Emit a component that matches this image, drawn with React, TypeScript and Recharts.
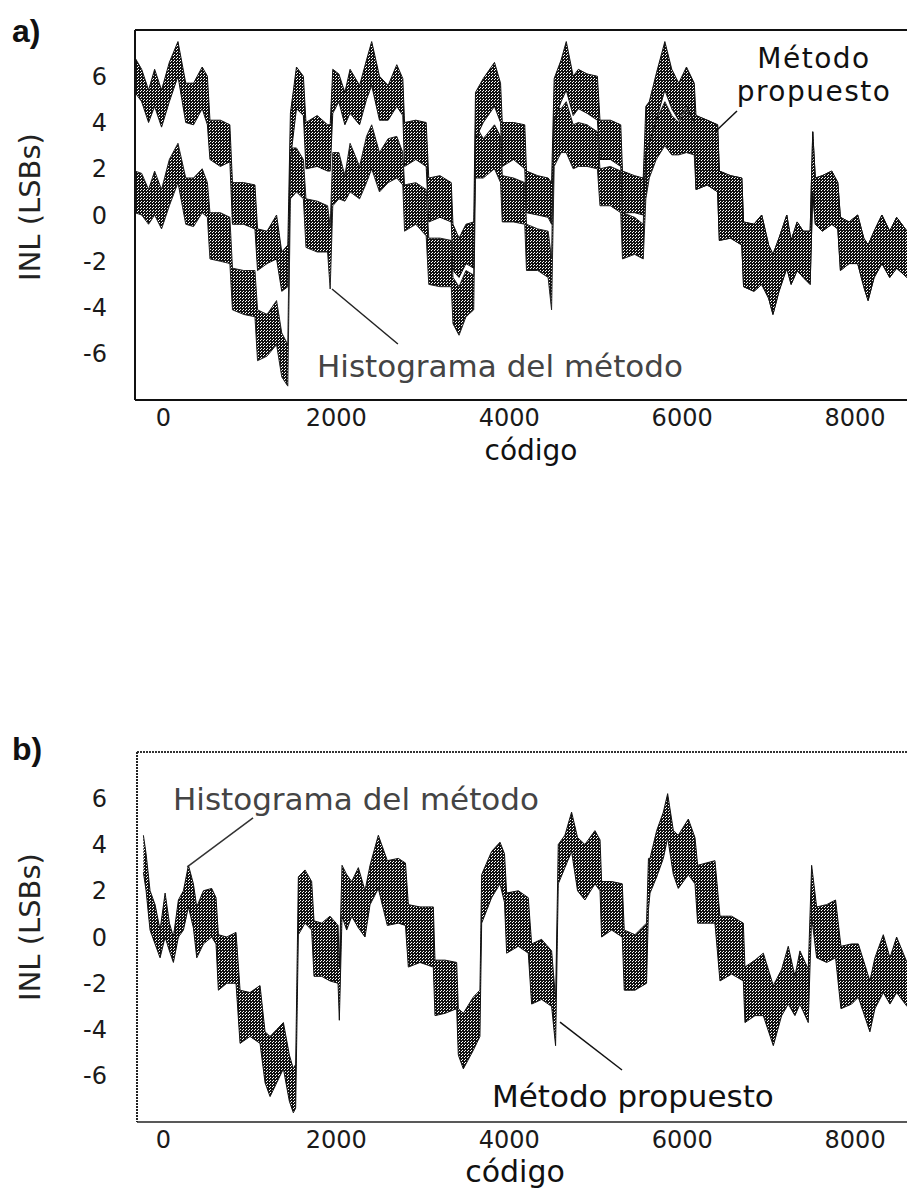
import React from 'react';
import { AreaChart, Area, XAxis, YAxis, ReferenceLine } from 'recharts';

// panel a) — INL band of both methods (low / high edge of the dense oscillation)
const aCode = [
  -327, -250, -170, -100, -20, 70, 170, 260, 350, 450, 510, 540, 660, 770, 800, 930, 1060, 1090, 1200, 1310,
  1370, 1440, 1470, 1540, 1620, 1650, 1780, 1900, 1930, 1960, 2030, 2100, 2160, 2270, 2350, 2410, 2500, 2600, 2700, 2770,
  2790, 2920, 3040, 3070, 3200, 3330, 3350, 3420, 3500, 3590, 3610, 3700, 3830, 3900, 3920, 4050, 4180, 4200, 4330, 4450,
  4490, 4520, 4600, 4660, 4740, 4800, 4900, 5020, 5050, 5170, 5290, 5310, 5450, 5550, 5580, 5620, 5700, 5800, 5880, 5960,
  6050, 6140, 6160, 6290, 6410, 6430, 6560, 6690, 6710, 6830, 6920, 7000, 7050, 7120, 7210, 7260, 7330, 7400, 7480, 7510,
  7540, 7620, 7730, 7800, 7830, 7930, 8030, 8100, 8150, 8220, 8310, 8400, 8480, 8600,
];
const aPropHi = [
  6.8, 6.3, 5.4, 6.3, 5.4, 6.6, 7.5, 5.7, 5.7, 6.4, 6.0, 4.1, 4.1, 3.9, 1.4, 1.4, 1.3, -0.6, -0.7, 0.0,
  -1.6, -1.3, 4.4, 6.4, 6.0, 4.0, 4.3, 3.9, 3.9, 6.3, 6.1, 5.3, 6.3, 5.6, 6.7, 7.5, 6.0, 5.6, 6.5, 5.9,
  4.0, 4.1, 4.0, 1.6, 1.7, 1.4, -0.4, -1.0, -0.4, -0.3, 5.3, 5.9, 6.6, 5.7, 4.0, 4.0, 3.9, 1.9, 1.7, 1.6,
  1.4, 5.9, 6.7, 7.5, 6.0, 6.3, 6.1, 6.0, 4.1, 4.1, 3.9, 1.9, 1.7, 1.6, 4.7, 4.9, 6.1, 7.5, 6.3, 5.7,
  6.4, 5.7, 4.3, 4.1, 3.9, 1.9, 1.7, 1.6, -0.3, -0.4, 0.0, -1.3, -1.7, -1.0, 0.0, -1.1, -0.3, -0.7, -0.7, 3.6,
  1.6, 1.7, 1.9, 1.4, -0.1, -0.3, 0.0, -1.0, -1.3, -0.7, 0.0, -0.7, -0.1, -0.7,
];
const aPropLo = [
  5.3, 4.9, 4.0, 4.7, 3.8, 4.9, 6.0, 4.0, 3.9, 4.6, 3.9, 2.4, 2.1, 2.3, -0.4, -0.4, -0.6, -2.4, -2.1, -1.9,
  -3.3, -3.1, 2.4, 4.6, 4.3, 2.0, 2.1, 1.9, 1.9, 4.4, 4.9, 3.9, 4.4, 3.9, 5.0, 5.6, 4.1, 4.1, 4.7, 4.3,
  2.1, 2.4, 2.1, -0.3, -0.1, -0.3, -2.4, -2.7, -2.1, -2.3, 3.3, 4.0, 4.7, 4.0, 2.1, 2.4, 2.0, 0.1, 0.0, -0.1,
  -0.4, 4.1, 4.9, 5.4, 4.3, 4.6, 4.4, 4.1, 2.4, 2.4, 2.1, 0.1, 0.1, 0.0, 2.7, 3.1, 4.1, 5.4, 4.6, 4.1,
  4.7, 4.0, 1.1, 1.3, 1.0, -1.1, -1.0, -1.3, -3.1, -3.3, -3.0, -3.6, -4.3, -3.3, -2.3, -3.0, -2.4, -2.7, -3.0, 1.0,
  -0.4, -0.7, -0.4, -0.6, -2.4, -2.1, -2.1, -3.1, -3.7, -2.7, -2.1, -2.7, -2.3, -2.7,
];
const aHistHi = [
  1.9, 1.8, 1.1, 1.9, 1.1, 2.4, 3.1, 1.6, 1.6, 2.0, 1.4, 0.1, 0.1, -0.1, -2.3, -2.4, -2.4, -4.1, -4.3, -3.7,
  -5.1, -5.6, 2.9, 2.9, 2.4, 0.7, 0.6, 0.4, -0.5, 2.7, 2.7, 1.7, 3.1, 2.1, 3.4, 3.9, 2.7, 3.3, 3.4, 2.7,
  1.3, 1.4, 1.1, -1.0, -1.0, -1.1, -2.7, -3.1, -2.4, -2.6, 3.9, 3.3, 3.9, 3.4, 1.7, 1.6, 1.4, -0.4, -0.6, -0.7,
  -1.9, 4.7, 4.6, 4.9, 3.9, 4.0, 3.9, 3.6, 2.0, 2.1, 1.9, 0.1, -0.1, -0.4, 2.7, 3.4, 4.1, 4.9, 4.3, 4.0,
  4.6, 4.0, 4.3, 4.1, 3.9, 1.9, 1.7, 1.6, -0.3, -0.4, 0.0, -1.3, -1.7, -1.0, 0.0, -1.1, -0.3, -0.7, -0.7, 3.6,
  1.6, 1.7, 1.9, 1.4, -0.1, -0.3, 0.0, -1.0, -1.3, -0.7, 0.0, -0.7, -0.1, -0.7,
];
const aHistLo = [
  0.1, 0.0, -0.4, 0.0, -0.6, 0.4, 1.4, -0.4, -0.5, 0.1, -0.1, -1.9, -2.0, -2.1, -4.1, -4.3, -4.4, -6.3, -6.1, -5.6,
  -7.0, -7.4, 0.7, 1.0, 0.7, -1.4, -1.6, -1.6, -3.2, 0.4, 0.7, 0.6, 1.0, 0.7, 1.4, 2.0, 1.0, 1.4, 1.6, 1.3,
  -0.7, -0.4, -0.9, -3.0, -3.1, -3.1, -4.7, -5.2, -4.4, -4.1, 1.6, 1.6, 2.0, 1.4, -0.3, -0.3, -0.4, -2.4, -2.4, -2.7,
  -4.1, 2.1, 2.7, 2.7, 2.0, 2.1, 2.1, 2.0, 0.4, 0.4, 0.1, -1.9, -1.7, -1.9, 0.7, 1.6, 2.4, 3.0, 2.6, 2.6,
  2.7, 2.6, 1.1, 1.3, 1.0, -1.1, -1.0, -1.3, -3.1, -3.3, -3.0, -3.6, -4.3, -3.3, -2.3, -3.0, -2.4, -2.7, -3.0, 1.0,
  -0.4, -0.7, -0.4, -0.6, -2.4, -2.1, -2.1, -3.1, -3.7, -2.7, -2.1, -2.7, -2.3, -2.7,
];

// panel b) — both methods coincide in one band
const bCode = [
  -231, -200, -154, -96, -38, 20, 70, 116, 174, 232, 290, 347, 386, 463, 559, 609, 636, 733, 840, 887,
  1002, 1118, 1176, 1234, 1311, 1388, 1457, 1503, 1530, 1561, 1638, 1715, 1742, 1831, 1927, 2020, 2035, 2066, 2120, 2178,
  2255, 2332, 2390, 2486, 2590, 2717, 2800, 2833, 2968, 3122, 3141, 3257, 3392, 3411, 3469, 3584, 3661, 3681, 3796, 3893,
  3945, 3970, 4105, 4220, 4259, 4374, 4490, 4536, 4567, 4644, 4721, 4790, 4875, 4991, 5050, 5068, 5184, 5307, 5330, 5454,
  5588, 5610, 5628, 5705, 5782, 5832, 5898, 5955, 6071, 6148, 6179, 6379, 6437, 6572, 6707, 6726, 6842, 6938, 7054, 7150,
  7227, 7304, 7362, 7458, 7497, 7555, 7671, 7774, 7836, 7959, 8037, 8171, 8229, 8326, 8403, 8480, 8600,
];
const bHi = [
  4.4, 3.6, 2.0, 1.4, 0.3, 1.9, 0.6, 0.0, 1.6, 2.0, 3.1, 2.3, 1.3, 2.0, 2.1, 1.7, 0.1, 0.0, 0.2, -2.3,
  -2.4, -2.1, -4.1, -4.3, -4.0, -3.7, -5.1, -5.7, -5.5, 2.6, 2.9, 2.4, 0.7, 0.6, 0.9, 0.5, -1.3, 3.1, 2.7, 2.4,
  3.0, 2.0, 3.1, 4.4, 3.3, 3.4, 3.2, 1.4, 1.3, 1.3, -1.0, -1.0, -1.1, -3.1, -3.3, -2.6, -2.3, 2.7, 3.7, 4.1,
  3.6, 1.9, 2.0, 1.7, -0.3, -0.1, -0.6, -2.7, 4.0, 4.4, 5.4, 4.3, 4.0, 4.6, 4.2, 2.4, 2.4, 2.3, 0.3, 0.1,
  0.6, 3.4, 3.4, 4.6, 5.4, 6.2, 4.6, 4.4, 5.1, 4.3, 3.1, 3.3, 0.9, 0.9, 0.6, -1.3, -1.0, -0.7, -2.1, -1.4,
  -0.4, -1.7, -0.6, -1.4, 3.1, 1.3, 1.4, 1.6, -0.4, -0.3, -0.3, -1.9, -0.9, 0.1, -0.9, 0.0, -1.1,
];
const bLo = [
  2.8, 2.0, 0.3, -0.3, -0.9, 0.0, -0.6, -1.1, 0.0, 0.3, 1.3, 0.4, -0.9, -0.3, 0.0, -0.3, -2.3, -2.0, -2.0, -4.6,
  -4.3, -4.6, -6.3, -6.9, -6.3, -5.7, -7.1, -7.6, -7.4, 0.1, 0.6, 0.3, -1.7, -1.7, -1.9, -2.0, -3.6, 0.9, 0.3, 0.9,
  0.4, 0.0, 1.4, 2.1, 0.5, 0.6, 0.5, -1.3, -1.1, -1.3, -3.4, -3.3, -3.1, -5.1, -5.7, -4.9, -4.3, 0.6, 1.7, 2.3,
  1.5, -0.7, -0.4, -0.7, -2.9, -2.7, -3.0, -4.7, 2.3, 3.0, 3.7, 2.0, 1.6, 2.3, 2.0, 0.0, 0.3, 0.0, -2.3, -2.3,
  -2.0, 1.2, 1.9, 2.6, 3.4, 4.3, 2.7, 2.1, 2.7, 2.3, 0.6, 0.6, -1.9, -1.6, -1.9, -3.7, -3.4, -3.4, -4.7, -3.4,
  -2.9, -3.4, -2.9, -3.7, 0.9, -0.9, -1.1, -0.9, -3.1, -2.9, -2.6, -4.1, -3.1, -2.4, -2.9, -2.4, -3.0,
];

const xTicks = [0, 2000, 4000, 6000, 8000];
const yTicks = [-6, -4, -2, 0, 2, 4, 6];

const FONT = '"DejaVu Sans", "Liberation Sans", sans-serif';
const tickStyle = { fill: '#1a1a1a', fontSize: 24, fontFamily: FONT };

const aData = aCode.map((c, i) => ({
  code: c,
  prop: [aPropLo[i], aPropHi[i]],
  hist: [aHistLo[i], aHistHi[i]],
}));
const bData = bCode.map((c, i) => ({ code: c, inl: [bLo[i], bHi[i]] }));

// dense halftone look of the scanned bands
function Dots({ id }: { id: string }) {
  return (
    <defs>
      <pattern id={id} width="3" height="3" patternUnits="userSpaceOnUse">
        <rect width="3" height="3" fill="#111" />
        <rect x="0" y="0" width="1" height="1" fill="#fff" />
        <rect x="2" y="1" width="1" height="1" fill="#fff" />
      </pattern>
    </defs>
  );
}

function PanelA() {
  return (
    <div style={{ position: 'absolute', left: 0, top: 0 }}>
      <AreaChart width={907} height={460} data={aData} margin={{ top: 30, right: 0, bottom: 20, left: 35 }}>
        <Dots id="dotsA" />
        <XAxis
          type="number"
          dataKey="code"
          domain={[-327, 8600]}
          ticks={xTicks}
          allowDataOverflow
          height={40}
          tickLine={false}
          tickMargin={3}
          axisLine={{ stroke: '#111', strokeWidth: 2 }}
          tick={tickStyle}
        />
        <YAxis
          type="number"
          domain={[-8, 8]}
          ticks={yTicks}
          allowDataOverflow
          width={100}
          tickLine={false}
          tickMargin={22}
          axisLine={{ stroke: '#111', strokeWidth: 2 }}
          tick={tickStyle}
        />
        <ReferenceLine y={8} stroke="#111" strokeWidth={2} />
        <Area
          type="linear"
          dataKey="hist"
          stroke="#222"
          strokeWidth={1}
          fill="url(#dotsA)"
          fillOpacity={1}
          dot={false}
          activeDot={false}
          isAnimationActive={false}
        />
        <Area
          type="linear"
          dataKey="prop"
          stroke="#111"
          strokeWidth={1}
          fill="url(#dotsA)"
          fillOpacity={1}
          dot={false}
          activeDot={false}
          isAnimationActive={false}
        />
        <ReferenceLine segment={[{ x: 1951, y: -3.2 }, { x: 2713, y: -5.58 }]} stroke="#222" strokeWidth={1.5} />
        <ReferenceLine segment={[{ x: 6634, y: 4.5 }, { x: 6391, y: 3.63 }]} stroke="#111" strokeWidth={1.5} />
      </AreaChart>
    </div>
  );
}

function PanelB() {
  return (
    <div style={{ position: 'absolute', left: 0, top: 720 }}>
      <AreaChart width={907} height={462} data={bData} margin={{ top: 32, right: 0, bottom: 20, left: 37 }}>
        <Dots id="dotsB" />
        <XAxis
          type="number"
          dataKey="code"
          domain={[-305, 8600]}
          ticks={xTicks}
          allowDataOverflow
          height={40}
          tickLine={false}
          tickMargin={3}
          axisLine={{ stroke: '#222', strokeWidth: 1.5 }}
          tick={tickStyle}
        />
        <YAxis
          type="number"
          domain={[-8, 8]}
          ticks={yTicks}
          allowDataOverflow
          width={100}
          tickLine={false}
          tickMargin={24}
          axisLine={{ stroke: '#222', strokeWidth: 2, strokeDasharray: '2 1' }}
          tick={tickStyle}
        />
        <ReferenceLine y={8} stroke="#333" strokeWidth={2} strokeDasharray="2 1" />
        <Area
          type="linear"
          dataKey="inl"
          stroke="#111"
          strokeWidth={1}
          fill="url(#dotsB)"
          fillOpacity={1}
          dot={false}
          activeDot={false}
          isAnimationActive={false}
        />
        <ReferenceLine segment={[{ x: 276, y: 3.03 }, { x: 1037, y: 5.15 }]} stroke="#333" strokeWidth={1.5} />
        <ReferenceLine segment={[{ x: 4587, y: -3.68 }, { x: 5304, y: -5.75 }]} stroke="#111" strokeWidth={1.5} />
      </AreaChart>
    </div>
  );
}

export default function App() {
  return (
    <div
      style={{
        position: 'absolute',
        left: 0,
        top: 0,
        width: 907,
        height: 1195,
        overflow: 'hidden',
        background: '#fff',
      }}
    >
      <PanelA />
      <PanelB />
      <svg
        width={907}
        height={1195}
        style={{ position: 'absolute', left: 0, top: 0, pointerEvents: 'none' }}
        fontFamily={FONT}
      >
        <text x={12} y={42} fontSize={32} fontWeight="bold" fontFamily='"Liberation Sans", Arial, sans-serif' fill="#111">
          a)
        </text>
        <text x={12} y={760} fontSize={32} fontWeight="bold" fontFamily='"Liberation Sans", Arial, sans-serif' fill="#111">
          b)
        </text>

        <text transform="rotate(-90 30 207)" x={30} y={207} textAnchor="middle" dominantBaseline="central" fontSize={29} fill="#222">
          INL (LSBs)
        </text>
        <text transform="rotate(-90 30 927)" x={30} y={927} textAnchor="middle" dominantBaseline="central" fontSize={29} fill="#222">
          INL (LSBs)
        </text>

        <text x={531} y={460} textAnchor="middle" fontSize={28} fill="#111">
          código
        </text>
        <text x={515} y={1182} textAnchor="middle" fontSize={30} fill="#111">
          código
        </text>

        <text x={814} y={68} textAnchor="middle" fontSize={28} letterSpacing={1.5} fill="#111">
          Método
        </text>
        <text x={814} y={101} textAnchor="middle" fontSize={28} letterSpacing={1.5} fill="#111">
          propuesto
        </text>
        <text x={317} y={377} fontSize={31} fill="#444">
          Histograma del método
        </text>

        <text x={173} y={810} fontSize={31} fill="#444">
          Histograma del método
        </text>
        <text x={492} y={1107} fontSize={31} fill="#111">
          Método propuesto
        </text>
      </svg>
    </div>
  );
}
